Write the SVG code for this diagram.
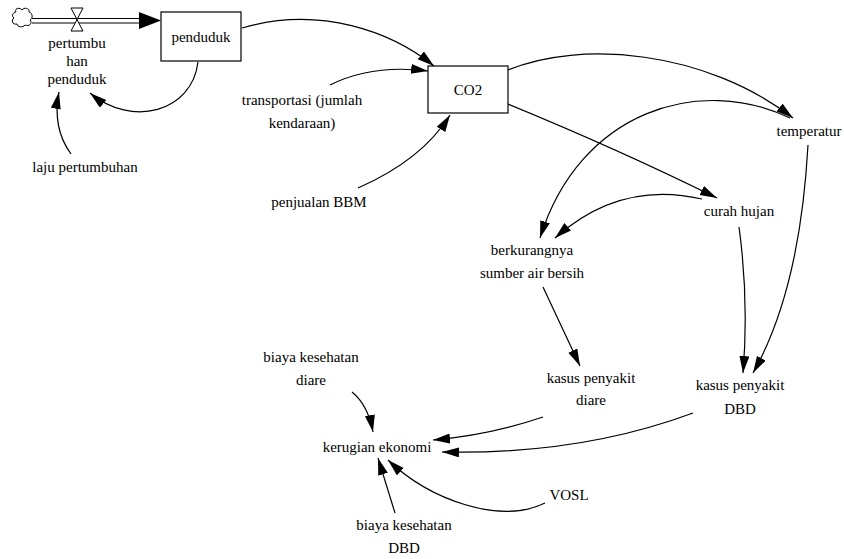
<svg xmlns="http://www.w3.org/2000/svg" width="844" height="559" viewBox="0 0 844 559">
  <style>
    .lbl { font-family: "Liberation Serif", "Times New Roman", serif; font-size: 15px; fill: #000; text-anchor: middle; }
    .box { fill: #fff; stroke: #000; stroke-width: 1.2; }
    .link { fill: none; stroke: #000; stroke-width: 1.2; marker-end: url(#arrow); }
    .pipe { fill: none; stroke: #000; stroke-width: 1.2; }
  </style>
  <defs>
    <marker id="arrow" markerWidth="18" markerHeight="11" refX="17" refY="5" orient="auto" markerUnits="userSpaceOnUse">
      <path d="M0,0 L17,5 L0,10 Z" fill="#000"/>
    </marker>
  </defs>
  <rect width="844" height="559" fill="#fff"/>

  <!-- inflow: source cloud, pipe, valve -->
  <g id="flow-pertumbuhan">
    <path d="M16,12 C14,8 20,7 22,10 C24,7 30,8 29,12 C33,13 33,19 30,20 C33,23 29,27 25,25 C23,28 17,27 17,24 C12,25 11,20 14,18 C11,16 13,12 16,12 Z" fill="#fff" stroke="#000" stroke-width="1"/>
    <line class="pipe" x1="32" y1="18.5" x2="141" y2="18.5"/>
    <line class="pipe" x1="32" y1="23" x2="141" y2="23"/>
    <path d="M139,12 L161,20.5 L139,29 Z" fill="#000"/>
    <path d="M71,8 L83,8 L71,31 L83,31 Z" fill="#fff" stroke="#000" stroke-width="1"/>
    <text class="lbl" x="77" y="48">pertumbu</text>
    <text class="lbl" x="77" y="66">han</text>
    <text class="lbl" x="77" y="84">penduduk</text>
  </g>

  <g id="penduduk">
    <rect class="box" x="161" y="12" width="80" height="49"/>
    <text class="lbl" x="201" y="42">penduduk</text>
  </g>

  <g id="co2">
    <rect class="box" x="428" y="66" width="80" height="47"/>
    <text class="lbl" x="468" y="95">CO2</text>
  </g>

  <g id="laju-pertumbuhan">
    <text class="lbl" x="85" y="172">laju pertumbuhan</text>
  </g>

  <g id="transportasi">
    <text class="lbl" x="302" y="105">transportasi (jumlah</text>
    <text class="lbl" x="302" y="128">kendaraan)</text>
  </g>

  <g id="penjualan-bbm">
    <text class="lbl" x="319" y="207">penjualan BBM</text>
  </g>

  <g id="temperatur">
    <text class="lbl" x="809" y="136">temperatur</text>
  </g>

  <g id="curah-hujan">
    <text class="lbl" x="739" y="216">curah hujan</text>
  </g>

  <g id="berkurangnya-air">
    <text class="lbl" x="532" y="255">berkurangnya</text>
    <text class="lbl" x="532" y="278">sumber air bersih</text>
  </g>

  <g id="kasus-diare">
    <text class="lbl" x="591" y="383">kasus penyakit</text>
    <text class="lbl" x="591" y="405">diare</text>
  </g>

  <g id="kasus-dbd">
    <text class="lbl" x="740" y="390">kasus penyakit</text>
    <text class="lbl" x="740" y="414">DBD</text>
  </g>

  <g id="biaya-diare">
    <text class="lbl" x="311" y="362">biaya kesehatan</text>
    <text class="lbl" x="311" y="385">diare</text>
  </g>

  <g id="kerugian-ekonomi">
    <text class="lbl" x="377" y="452">kerugian ekonomi</text>
  </g>

  <g id="vosl">
    <text class="lbl" x="569" y="500">VOSL</text>
  </g>

  <g id="biaya-dbd">
    <text class="lbl" x="404" y="530">biaya kesehatan</text>
    <text class="lbl" x="404" y="553">DBD</text>
  </g>

  <!-- causal links -->
  <g id="connectors">
    <path class="link" d="M198,62 C192,112 132,128 90,93"/>
    <path class="link" d="M71,154 Q52,128 59,92"/>
    <path class="link" d="M242,28 C320,5 392,32 434,66"/>
    <path class="link" d="M330,85 Q372,64 428,71"/>
    <path class="link" d="M358,188 Q422,160 450,115"/>
    <path class="link" d="M508,70 C580,40 705,50 793,118"/>
    <path class="link" d="M508,104 Q620,150 717,198"/>
    <path class="link" d="M790,118 C700,75 580,110 540,238"/>
    <path class="link" d="M702,199 Q620,180 555,238"/>
    <path class="link" d="M739,227 Q749,300 743,373"/>
    <path class="link" d="M808,145 Q800,290 753,373"/>
    <path class="link" d="M543,287 L580,366"/>
    <path class="link" d="M543,417 Q490,435 433,440"/>
    <path class="link" d="M693,413 Q580,455 442,452"/>
    <path class="link" d="M352,392 Q368,405 373,432"/>
    <path class="link" d="M545,503 C500,525 430,500 388,460"/>
    <path class="link" d="M395,513 L378,458"/>
  </g>
</svg>
